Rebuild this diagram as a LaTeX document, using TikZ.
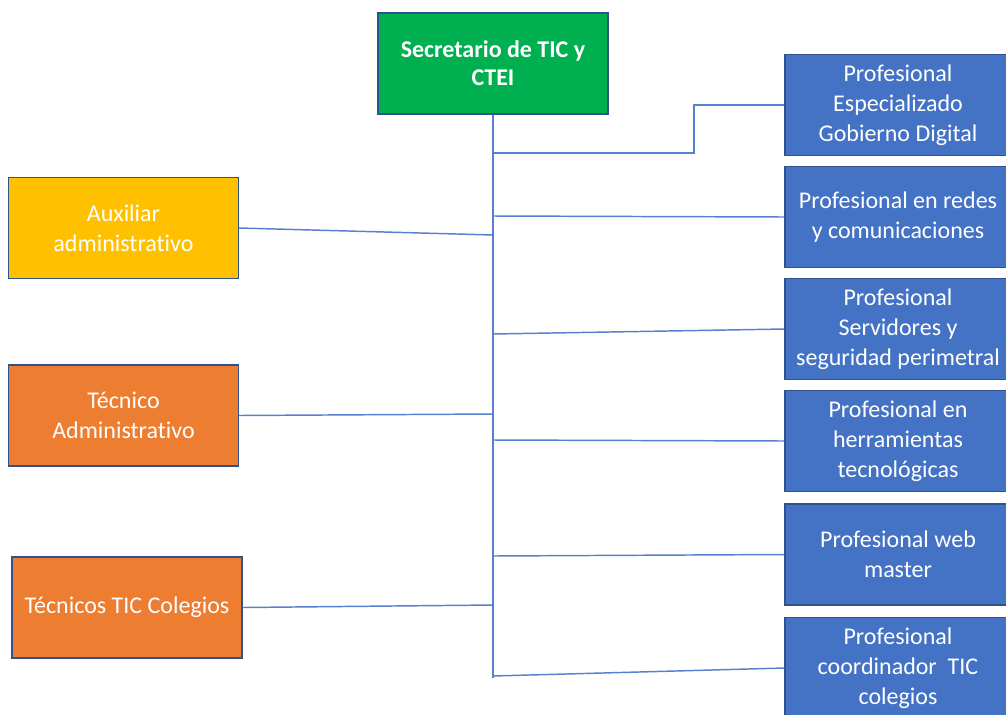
\documentclass[tikz,border=0pt]{standalone}
\usepackage{fontspec}
\setmainfont{Carlito}[Ligatures=NoCommon]
\usepackage{tikz}
\definecolor{secgreen}{RGB}{0,176,80}
\definecolor{auxyellow}{RGB}{255,192,0}
\definecolor{tecorange}{RGB}{237,125,49}
\definecolor{profblue}{RGB}{68,114,196}
\definecolor{edgeblue}{RGB}{47,82,143}
\definecolor{linkblue}{RGB}{88,128,208}

\begin{document}
\begin{tikzpicture}[x=0.75pt, y=-0.75pt,
	box/.style={draw=edgeblue, line width=0.8pt, text=white, align=center,
		inner sep=0pt, minimum height=75.75pt,
		font=\fontsize{18}{22.5}\selectfont},
	lbox/.style={box, minimum width=172.5pt},
	profbox/.style={box, fill=profblue, minimum width=169.5pt},
	link/.style={draw=linkblue, line width=1.1pt}]
	\useasboundingbox (0,0) rectangle (1006,714);
	\def\tx{493}
	\def\px{898}
	% Head of the office
	\node[box, fill=secgreen, minimum width=172.5pt,
		font=\bfseries\fontsize{18}{21}\selectfont] (sec) at (\tx,63.5) {Secretario de TIC y\\CTEI};

	% Right column: professionals
	\node[profbox] (p1) at (\px,105) {Profesional\\Especializado\\Gobierno Digital};
	\node[profbox] (p2) at (\px,217) {Profesional en redes\\y comunicaciones};
	\node[profbox] (p3) at (\px,329) {Profesional\\Servidores y\\seguridad perimetral};
	\node[profbox] (p4) at (\px,441) {Profesional en\\herramientas\\tecnológicas};
	\node[profbox] (p5) at (\px,554.5) {Profesional web\\master};
	\node[profbox] (p6) at (\px,668) {Profesional\\coordinador\ \ TIC\\colegios};

	% Left column: support staff
	\node[lbox, fill=auxyellow] (aux) at (123.5,228) {Auxiliar\\administrativo};
	\node[lbox, fill=tecorange] (tec) at (123.5,415.5) {Técnico\\Administrativo};
	\node[lbox, fill=tecorange] (tcol) at (127,607.5) {Técnicos TIC Colegios};

	% Trunk
	\coordinate (bot) at (\tx,678);
	\draw[link] (sec.south) -- (bot);

	% Branches to the right
	\coordinate (r1) at (\tx,153);
	\coordinate (knee) at (694,153);
	\draw[link] (r1) -- (knee) |- (p1.west);
	\foreach \n/\y in {p2/216, p3/334, p4/440, p5/556, p6/676} {
		\coordinate (r-\n) at (\tx,\y);
		\draw[link] (r-\n) -- (\n.west);
	}

	% Branches to the left
	\foreach \n/\y in {aux/235, tec/414, tcol/605} {
		\coordinate (l-\n) at (\tx,\y);
		\draw[link] (\n.east) -- (l-\n);
	}
\end{tikzpicture}
\end{document}
